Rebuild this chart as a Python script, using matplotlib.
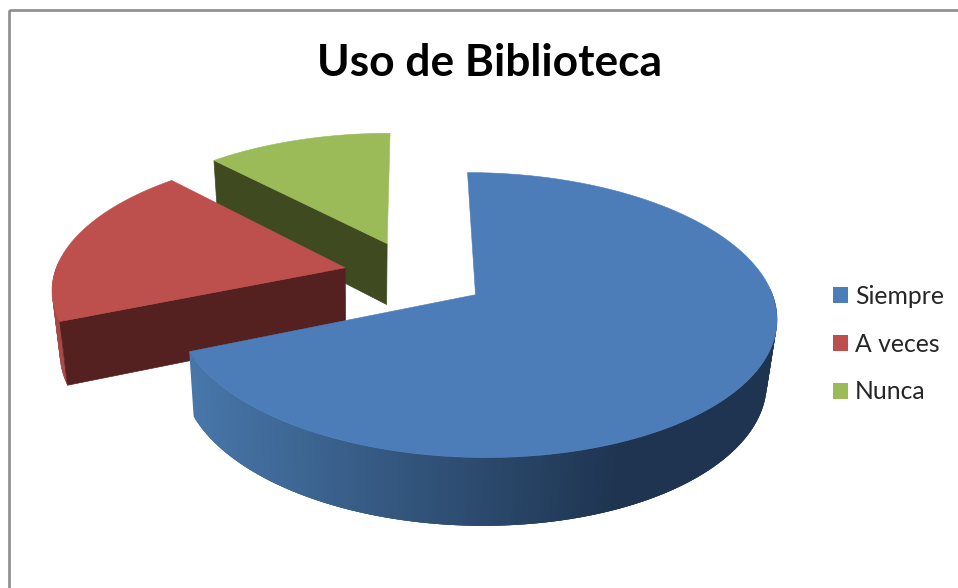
import numpy as np
import matplotlib
matplotlib.use("Agg")
import matplotlib.pyplot as plt
from matplotlib.collections import PolyCollection
from matplotlib.patches import Patch, Rectangle
from matplotlib.colors import to_rgb

title = "Uso de Biblioteca"
categories = ["Siempre", "A veces", "Nunca"]
values = [68.7, 19.3, 12.0]
colors = ["#4c7db9", "#bd4f4c", "#9bbb59"]
wall_colors = ["#1e3450", "#552120", "#3f4a21"]

explode_u = [0.259, 0.235, 0.235]
explode_v = 0.26

# projection of the tilted pie plane onto the picture
cx, cy = 411.5, 275
rx, ry = 291, 134
persp = 0.14
depth = 62
depth_persp = 0.08
x_vanish = 365
x_shrink = 0.975


def top_xy(u, v):
    w = 1 + persp * v
    return cx + rx * u / w, cy - ry * v / w


def bottom_xy(u, v):
    x, y = top_xy(u, v)
    x = x_vanish + (x - x_vanish) * x_shrink
    y = y + depth / (1 + depth_persp * v)
    return x, y


fig = plt.figure(figsize=(9.58, 5.88), dpi=100)
ax = fig.add_axes([0, 0, 1, 1])
ax.set_xlim(0, 958)
ax.set_ylim(588, 0)
ax.axis("off")

ax.add_patch(Rectangle((9, 10), 1000, 1000, fill=False, ec="#8c8c8c", lw=1.9))

# angles are clockwise from twelve o'clock, like Excel
fractions = np.array(values) / np.sum(values)
edges = np.concatenate([[0], np.cumsum(fractions)]) * 2 * np.pi

# back slices first so the blue one ends up on top
for i in [2, 1, 0]:
    a0, a1 = edges[i], edges[i + 1]
    mid = (a0 + a1) / 2
    ou, ov = explode_u[i] * np.sin(mid), explode_v * np.cos(mid)
    t = np.linspace(a0, a1, 400)
    u = ou + np.sin(t)
    v = ov + np.cos(t)
    tx, ty = top_xy(u, v)
    bx, by = bottom_xy(u, v)
    apex_top = top_xy(ou, ov)
    apex_bot = bottom_xy(ou, ov)
    z = 3 * (2 - i)

    # flat wall on the cut edge facing the viewer
    if i in (1, 2):
        ax.fill([tx[0], apex_top[0], apex_bot[0], bx[0]],
                [ty[0], apex_top[1], apex_bot[1], by[0]],
                color=wall_colors[i], lw=0.5, zorder=2 + z)

    # curved outer wall, only the part that faces the viewer
    quads = []
    quad_cols = []
    c_light = np.array(to_rgb("#4776a9"))
    c_dark = np.array(to_rgb(wall_colors[i]))
    front = np.where(np.cos(t) < 0.05)[0]
    if i == 2:
        front = front[:0]
    # each strip runs over the next one so no seams show up
    for j in front[:-3]:
        quads.append([(tx[j], ty[j]), (tx[j + 3], ty[j + 3]), (bx[j + 3], by[j + 3]), (bx[j], by[j])])
        if i == 0:
            s = np.clip((tx[j] - 195) / (625 - 195), 0, 1)
            quad_cols.append(c_light * (1 - s) + c_dark * s)
        else:
            quad_cols.append(to_rgb("#a84845"))
    if quads:
        ax.add_collection(PolyCollection(quads, facecolors=quad_cols, edgecolors="none", linewidths=0, zorder=1 + z))

    # top face
    ax.fill(np.r_[apex_top[0], tx], np.r_[apex_top[1], ty], color=colors[i], lw=0.4, zorder=3 + z)

ax.text(490, 63, title, ha="center", va="center", family="Lato", weight="bold", fontsize=31.9, color="black")

handles = [Patch(facecolor=c, edgecolor="none") for c in colors]
ax.legend(handles, categories, loc="upper left", bbox_to_anchor=(833, 285), bbox_transform=ax.transData,
          frameon=False, borderpad=0, borderaxespad=0, handlelength=0.6, handleheight=0.6,
          handletextpad=0.28, labelspacing=1.0, prop={"family": "Lato", "size": 17.8}, labelcolor="#262626")

fig.savefig("out.png", dpi=100)
